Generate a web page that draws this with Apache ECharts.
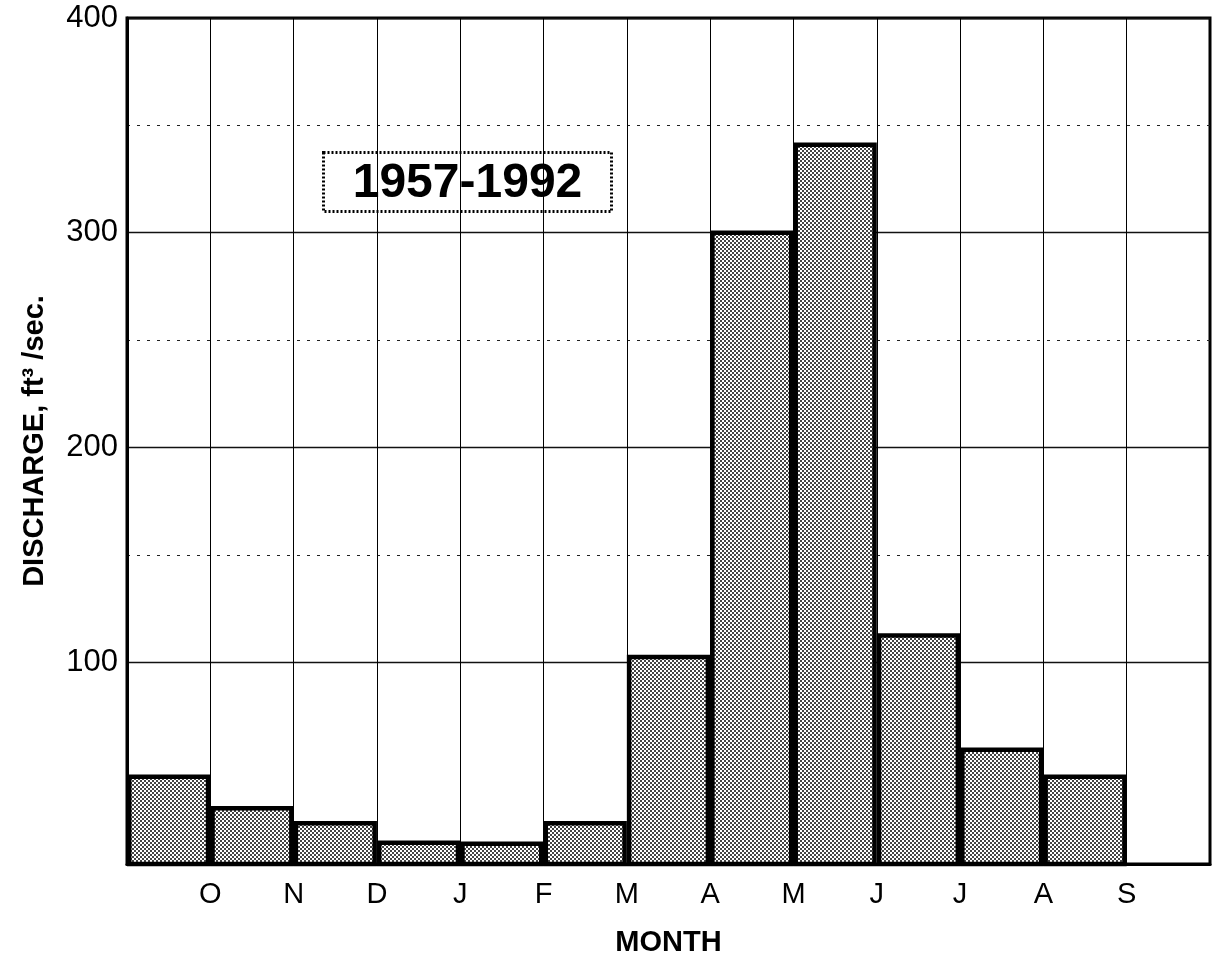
<!DOCTYPE html>
<html><head><meta charset="utf-8">
<script src="https://cdn.jsdelivr.net/npm/echarts@6/dist/echarts.min.js"></script>
<style>html,body{margin:0;padding:0;background:#fff}#c{width:1213px;height:962px}</style>
</head><body><div id="c"></div>
<script>
// ---- data ----
const months = ['O','N','D','J','F','M','A','M','J','J','A','S'];
const discharge = [47.7, 33, 26, 17, 16.5, 26, 103.5, 301, 342, 113.5, 60.3, 47.7];
const yMajorTicks = [100, 200, 300, 400];
const yMinorTicks = [150, 250, 350];
const periodLabel = '1957-1992';
const yTitle = 'DISCHARGE, ft\u00B3 /sec.';
const xTitle = 'MONTH';
const yMin = 6, yMax = 400;

// 12 month slots + one empty slot at the right
const slots = months.map((m, i) => 'm' + i).concat(['blank']);
const barData = discharge.concat(['-']);

// stipple pattern for bars
const pc = document.createElement('canvas');
pc.width = 4; pc.height = 4;
const pctx = pc.getContext('2d');
pctx.fillStyle = '#fff'; pctx.fillRect(0, 0, 4, 4);
pctx.fillStyle = '#444'; pctx.fillRect(0, 0, 2, 2); pctx.fillRect(2, 2, 2, 2);

const FONT = '"Liberation Sans", Arial, Helvetica, sans-serif';
const chart = echarts.init(document.getElementById('c'), null, {renderer: 'canvas'});
chart.setOption({
  animation: false,
  backgroundColor: '#fff',
  grid: {left: 127, right: 3, top: 18, bottom: 97, show: true, borderColor: '#000', borderWidth: 3, backgroundColor: 'transparent'},
  xAxis: [
    {
      type: 'value', min: 0, max: slots.length, interval: 1, position: 'bottom',
      axisLine: {show: true, lineStyle: {color: '#000', width: 3}},
      axisTick: {show: false},
      splitLine: {show: true, lineStyle: {color: '#000', width: 1}},
      axisLabel: {
        color: '#000', fontSize: 29, fontFamily: FONT, margin: 16,
        formatter: v => { const i = Math.round(v); return (i >= 1 && i <= months.length) ? months[i - 1] : ''; }
      },
      name: xTitle, nameLocation: 'middle', nameGap: 64,
      nameTextStyle: {color: '#000', fontSize: 29, fontWeight: 'bold', fontFamily: FONT}
    },
    {type: 'category', data: slots, show: false, boundaryGap: true}
  ],
  yAxis: [
    {
      type: 'value', min: yMin, max: yMax, position: 'left',
      axisLine: {show: true, lineStyle: {color: '#000', width: 3}},
      axisTick: {show: false, customValues: yMajorTicks},
      axisLabel: {customValues: yMajorTicks, color: '#000', fontSize: 31, fontFamily: FONT, margin: 9},
      splitLine: {show: true, lineStyle: {color: '#111', width: 1.3}},
      name: yTitle, nameLocation: 'middle', nameGap: 78, nameRotate: 90,
      nameTextStyle: {color: '#000', fontSize: 29, fontWeight: 'bold', fontFamily: FONT}
    },
    {
      type: 'value', min: yMin, max: yMax, position: 'left',
      axisLine: {show: false}, axisLabel: {show: false},
      axisTick: {show: false, customValues: yMinorTicks},
      splitLine: {show: true, lineStyle: {color: '#222', width: 1, type: [3, 7]}}
    }
  ],
  series: [{
    type: 'bar', xAxisIndex: 1, yAxisIndex: 0,
    data: barData, barWidth: '100%', barCategoryGap: '0%',
    itemStyle: {color: {image: pc, repeat: 'repeat'}, borderColor: '#000', borderWidth: 4.5},
    z: 3
  }],
  graphic: [{
    type: 'group', left: 322, top: 151, z: 10,
    children: [
      {type: 'rect', shape: {x: 0, y: 0, width: 288, height: 59},
       style: {fill: '#fff', stroke: '#000', lineWidth: 3, lineDash: [2, 2]}},
      {type: 'text', x: 144, y: 31,
       style: {text: periodLabel, font: 'bold 48px ' + FONT, fill: '#000', align: 'center', verticalAlign: 'middle'}}
    ]
  }]
});
</script>
</body></html>
